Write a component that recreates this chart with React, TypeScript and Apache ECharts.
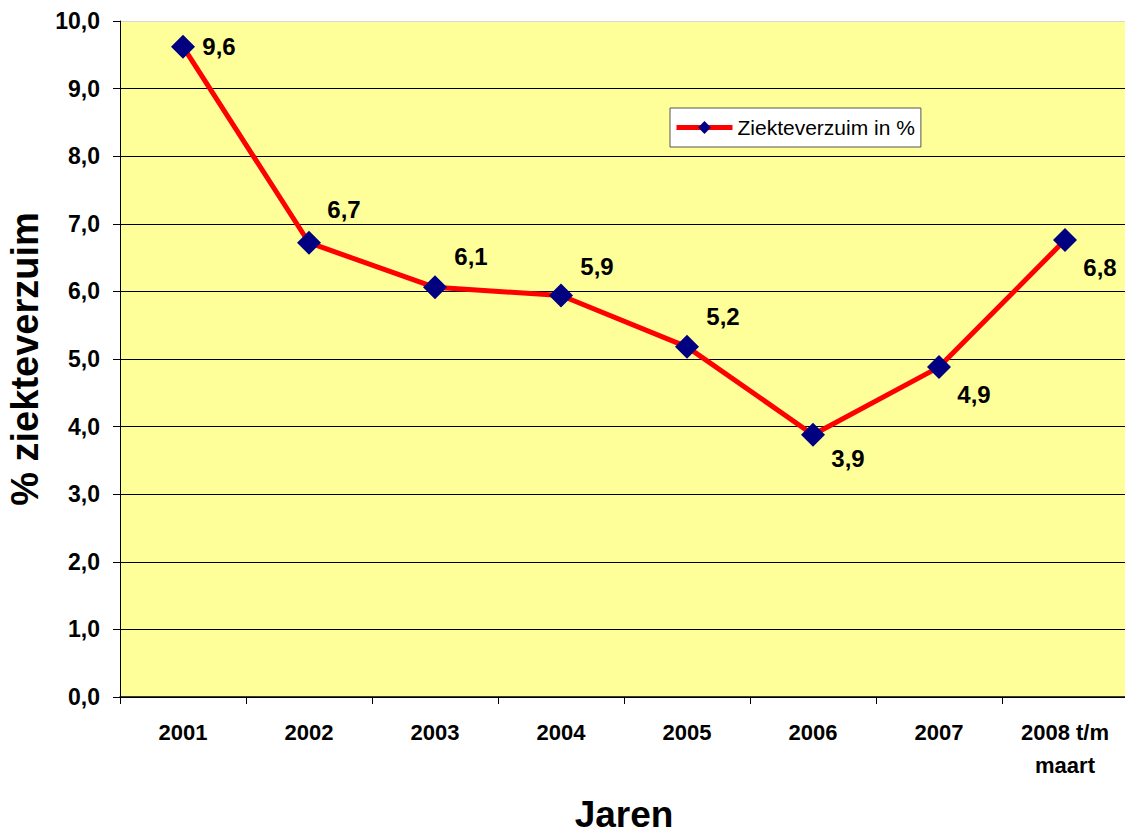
import React, { useEffect, useRef } from "react";
import * as echarts from "echarts";

const categories = ["2001", "2002", "2003", "2004", "2005", "2006", "2007", "2008 t/m\nmaart"];
const values = [9.62, 6.72, 6.06, 5.94, 5.18, 3.88, 4.88, 6.76];
const labelOffsets: [number, number][] = [
  [36, 0], [35, -33], [36, -31], [36, -29], [36, -30], [35, 24], [35, 27], [35, 27],
];
const yTicks = [0, 1, 2, 3, 4, 5, 6, 7, 8, 9, 10];
const seriesName = "Ziekteverzuim in %";

export default function App() {
  const ref = useRef<HTMLDivElement>(null);
  useEffect(() => {
    if (!ref.current) return;
    const chart = echarts.init(ref.current, null, { renderer: "svg" });
    const font = "Liberation Sans, Arial, sans-serif";
    const splitColors = yTicks.map((t) => (t === 10 ? "#d8d8d8" : "#000000"));
    chart.setOption({
      animation: false,
      backgroundColor: "#ffffff",
      textStyle: { fontFamily: font },
      grid: {
        left: 120,
        right: -3,
        top: 21,
        bottom: 137,
        show: true,
        backgroundColor: "#FFFF99",
        borderWidth: 0,
        containLabel: false,
        outerBoundsMode: "none",
      },
      legend: {
        data: [seriesName],
        left: 670,
        top: 108,
        backgroundColor: "#ffffff",
        borderColor: "#555555",
        borderWidth: 1,
        borderRadius: 0,
        padding: [9, 6, 9, 4],
        itemWidth: 56,
        itemHeight: 16,
        itemGap: 4,
        lineStyle: { width: 5, color: "#FF0000" },
        textStyle: { fontFamily: font, fontSize: 21, color: "#000" },
      },
      xAxis: {
        type: "category",
        data: categories,
        boundaryGap: true,
        name: "Jaren",
        nameLocation: "middle",
        nameGap: 99,
        nameTextStyle: { fontFamily: font, fontSize: 37, fontWeight: "bold", color: "#000" },
        axisLine: { show: true, lineStyle: { color: "#000", width: 1.5 } },
        axisTick: { show: true, length: 7, alignWithLabel: false, lineStyle: { color: "#000" } },
        axisLabel: {
          fontFamily: font,
          fontSize: 22,
          fontWeight: "bold",
          color: "#000",
          margin: 19,
          lineHeight: 33,
          verticalAlign: "top",
          interval: 0,
        },
        splitLine: { show: false },
      },
      yAxis: {
        type: "value",
        min: 0,
        max: 10,
        interval: 1,
        name: "% ziekteverzuim",
        nameLocation: "middle",
        nameGap: 71,
        nameRotate: 90,
        nameTextStyle: { fontFamily: font, fontSize: 38, fontWeight: "bold", color: "#000" },
        axisLine: { show: true, lineStyle: { color: "#000", width: 1 } },
        axisTick: { show: true, length: 7, inside: false, lineStyle: { color: "#000" } },
        axisLabel: {
          fontFamily: font,
          fontSize: 23,
          fontWeight: "bold",
          color: "#000",
          margin: 20,
          formatter: (v: number) => v.toFixed(1).replace(".", ","),
        },
        splitLine: { show: true, lineStyle: { color: splitColors, width: 1 } },
      },
      series: [
        {
          name: seriesName,
          type: "line",
          data: values.map((v, i) => ({
            value: v,
            label: { offset: labelOffsets[i] },
          })),
          symbol: "diamond",
          symbolSize: 24,
          itemStyle: { color: "#000080" },
          lineStyle: { color: "#FF0000", width: 5 },
          label: {
            show: true,
            position: "inside",
            fontFamily: font,
            fontSize: 24,
            fontWeight: "bold",
            color: "#000",
            formatter: (p: any) => Number(p.value).toFixed(1).replace(".", ","),
          },
          z: 3,
        },
      ],
    });
    return () => chart.dispose();
  }, []);
  return (
    <div
      ref={ref}
      style={{ position: "fixed", left: 0, top: 0, width: 1125, height: 834 }}
    />
  );
}
